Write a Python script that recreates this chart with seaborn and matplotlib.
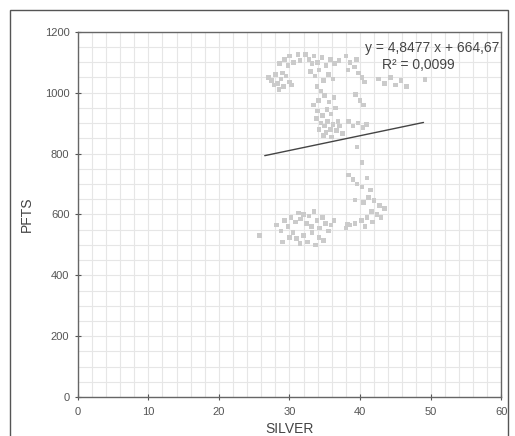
import matplotlib
matplotlib.use("Agg")
import matplotlib.pyplot as plt
import matplotlib.patches as mpatches
import numpy as np
import pandas as pd
import seaborn as sns

# ---- data ----
silver = [
    27.0, 27.5, 28.0, 28.3, 28.8, 29.2, 29.5, 30.0, 30.3, 27.8, 29.0, 28.5,
    28.6, 29.3, 30.0, 30.6, 31.2, 29.8, 31.5,
    32.3, 32.8, 33.2, 33.5, 34.0, 34.6, 35.2, 35.8, 36.4, 37.0,
    33.0, 33.6, 34.2, 34.8, 35.5, 36.2, 33.9, 34.5, 35.0, 34.1, 33.4, 35.6, 36.3,
    34.0, 34.7, 35.3, 33.8, 35.9, 36.5,
    34.5, 35.0, 35.4, 35.8, 36.2, 36.7, 37.1, 35.2, 34.8, 36.0, 37.5, 34.2, 36.9,
    38.0, 38.6, 39.2, 39.8, 40.3, 38.3, 39.5, 40.6,
    42.6, 43.5, 44.3, 45.0, 45.8, 46.6, 49.2,
    39.4, 40.0, 40.5,
    38.4, 39.0, 39.7, 40.4, 40.9,
    39.6, 40.3, 38.4, 39.0, 39.6, 40.3, 41.0, 41.5, 39.3, 40.5, 41.2, 42.0,
    42.8, 43.5, 41.6, 42.4, 43.0, 41.0, 40.2, 39.3, 38.5, 38.0, 40.7, 41.8,
    25.8, 28.2, 28.8, 29.3, 29.8, 30.2, 30.5, 30.9, 31.3, 31.6, 32.0, 32.4,
    32.8, 33.1, 33.5, 33.9, 34.3, 34.7, 35.1, 35.5, 35.9, 31.0, 31.5, 32.0,
    32.6, 33.2, 33.7, 34.2, 34.8, 30.0, 29.0, 36.3, 38.2,
]
pfts = [
    1050, 1040, 1060, 1030, 1045, 1020, 1055, 1035, 1025, 1025, 1065, 1010,
    1095, 1110, 1120, 1100, 1125, 1090, 1105,
    1125, 1110, 1095, 1120, 1100, 1115, 1090, 1110, 1095, 1105,
    1070, 1055, 1075, 1040, 1060, 1045, 1020, 1005, 990, 975, 960, 970, 985,
    940, 925, 945, 915, 930, 950,
    900, 890, 905, 880, 895, 875, 890, 870, 860, 855, 865, 880, 905,
    1120, 1100, 1085, 1065, 1050, 1075, 1110, 1035,
    1045, 1030, 1050, 1025, 1040, 1020, 1043,
    995, 975, 960,
    905, 890, 900, 885, 895,
    822, 770, 730, 715, 700, 690, 720, 680, 648, 640, 655, 645,
    630, 620, 610, 600, 590, 590, 580, 570, 565, 555, 560, 575,
    530, 565, 545, 580, 560, 590, 540, 575, 605, 585, 600, 570,
    595, 560, 610, 580, 555, 590, 570, 545, 565, 520, 505, 530,
    510, 540, 500, 525, 515, 525, 510, 580, 566,
]
trend_slope = 4.8477
trend_intercept = 664.67
trend_x_range = [26.5, 49.0]
eq_lines = ["y = 4,8477 x + 664,67", "R² = 0,0099"]
x_ticks = [0, 10, 20, 30, 40, 50, 60]
y_ticks = [0, 200, 400, 600, 800, 1000, 1200]

df = pd.DataFrame({"SILVER": silver, "PFTS": pfts})

sns.set_theme(style="white")
plt.rcParams["font.family"] = ["Liberation Sans", "DejaVu Sans"]

fig = plt.figure(figsize=(5.15, 4.36), dpi=100)
ax = fig.add_axes([0.151, 0.0894, 0.822, 0.8376])

# outer chart frame
fig.patches.append(mpatches.Rectangle((10 / 515, -0.05), (508 - 10) / 515, 1 - 10 / 436 + 0.05,
                                      transform=fig.transFigure, fill=False,
                                      edgecolor="#555555", linewidth=1.0))

ax.set_xlim(0, 60)
ax.set_ylim(0, 1200)
ax.set_xticks(np.arange(0, 60.01, 2), minor=True)
ax.set_yticks(np.arange(0, 1200.01, 50), minor=True)
ax.grid(which="both", color="#e6e6e6", linewidth=0.8)
ax.set_axisbelow(True)

sns.scatterplot(data=df, x="SILVER", y="PFTS", ax=ax, marker="s", s=11,
                color="#cbcbcb", edgecolor="none", linewidth=0, zorder=3)

xs = np.array(trend_x_range)
ax.plot(xs, trend_slope * xs + trend_intercept, color="#444444", linewidth=1.0, zorder=4)

ax.text(0.995, 0.955, eq_lines[0], transform=ax.transAxes, ha="right", va="center",
        fontsize=10, color="#444444", zorder=5)
ax.text(0.89, 0.91, eq_lines[1], transform=ax.transAxes, ha="right", va="center",
        fontsize=10, color="#444444", zorder=5)

ax.set_xticks(x_ticks)
ax.set_yticks(y_ticks)
ax.tick_params(which="major", direction="inout", length=5, width=0.8, color="#555555",
               labelsize=8, labelcolor="#555555", bottom=True, left=True)
ax.tick_params(axis="x", which="major", pad=5)
ax.tick_params(which="minor", length=0)
for s in ax.spines.values():
    s.set_color("#666666")
    s.set_linewidth(1.0)

ax.set_xlabel("SILVER", fontsize=10, color="#444444", labelpad=3)
ax.set_ylabel("PFTS", fontsize=10, color="#444444", labelpad=8)

fig.savefig("out.png", dpi=100)
